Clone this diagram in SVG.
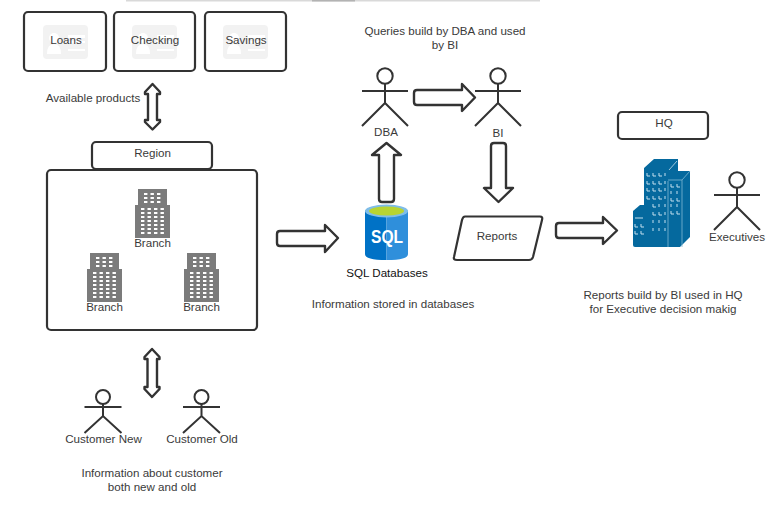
<svg xmlns="http://www.w3.org/2000/svg" xmlns:xlink="http://www.w3.org/1999/xlink" width="780" height="511" viewBox="0 0 780 511">
<style>
text{font-family:"Liberation Sans",Arial,sans-serif;font-size:11.6px;fill:#3a3a3a;text-anchor:middle}
.box{fill:#fff;stroke:#333;stroke-width:2.2;stroke-linejoin:round}
.arrow{fill:#fff;stroke:#333;stroke-width:2.4;stroke-linejoin:round}
.actor{fill:none;stroke:#333;stroke-width:2}
.bld{fill:#7b7b7b}
.win{fill:#fff}
.hqw{fill:none;stroke:#c4e0ee;stroke-width:1}
</style>
<defs>
<g id="prod">
<rect x="0" y="0" width="45" height="34" rx="4" fill="#f2f2f2"/>
<circle cx="11" cy="13" r="5" fill="#fff"/>
<path d="M4 29q0-10 7-10t7 10z" fill="#fff"/>
<rect x="25" y="10" width="17" height="3" fill="#fff"/>
<rect x="25" y="16" width="17" height="2" fill="#fff"/>
<rect x="25" y="24" width="17" height="2" fill="#fff"/>
</g>
<g id="w3"><rect x="0" y="0" width="3.4" height="2" class="win"/><rect x="6.5" y="0" width="3.4" height="2" class="win"/><rect x="13" y="0" width="3.4" height="2" class="win"/></g>
<g id="w4"><rect x="0" y="0" width="3.4" height="2" class="win"/><rect x="6.5" y="0" width="3.4" height="2" class="win"/><rect x="13" y="0" width="3.4" height="2" class="win"/><rect x="19.5" y="0" width="3.4" height="2" class="win"/></g>
<g id="bldg">
<rect x="3" y="0" width="29" height="17" class="bld"/>
<rect x="0" y="16" width="35" height="33" class="bld"/>
<use xlink:href="#w3" x="9" y="4"/><use xlink:href="#w3" x="9" y="8"/><use xlink:href="#w3" x="9" y="12"/>
<use xlink:href="#w4" x="6" y="19"/><use xlink:href="#w4" x="6" y="23"/><use xlink:href="#w4" x="6" y="27"/><use xlink:href="#w4" x="6" y="31"/><use xlink:href="#w4" x="6" y="35"/><use xlink:href="#w4" x="6" y="39"/><use xlink:href="#w4" x="6" y="43"/>
</g>
<g id="actor">
<circle cx="0" cy="0" r="7.7" fill="#fff" stroke="#333" stroke-width="2"/>
<path class="actor" d="M-23 15H23M0 7.7V27M-23 50L0 27L23 50"/>
</g>
<g id="actorS">
<circle cx="0" cy="0" r="7" fill="#fff" stroke="#333" stroke-width="2"/>
<path class="actor" d="M-18.500 10H18.500M0 7V19M-18.500 36L0 19L18.500 36"/>
</g>
</defs>

<g id="top-edge">
<rect x="126" y="0" width="414" height="1.500" fill="#d9d9d9"/>
<rect x="312" y="0" width="43" height="1.500" fill="#b3b3b3"/>
</g>

<g id="connectors">
<path class="arrow" d="M152.500 84L160 92V94H157V120H160V122L152.500 129.500L145 122V120H148V94H145V92Z"/>
<path class="arrow" d="M152 349L159.500 357V359H157V387H159.500V389L152 397L144.500 389V387H147.500V359H144.500V357Z"/>
<path class="arrow" d="M280 231H325V225L338 238L325 252V246H280Q277 246 277 243V234Q277 231 280 231Z"/>
<path class="arrow" d="M417 90H462V84L475 97.500L462 111V105H417Q414 105 414 102V93Q414 90 417 90Z"/>
<path class="arrow" d="M382 202Q379 202 379 199V155H372L386.500 143L401 155H394V199Q394 202 391 202Z"/>
<path class="arrow" d="M494 143H503Q506 143 506 146V188H513L498.500 202L484 188H491V146Q491 143 494 143Z"/>
<path class="arrow" d="M559 223H603V217L617 230.500L603 244V238H559Q556 238 556 235V226Q556 223 559 223Z"/>
</g>

<g id="loans"><rect class="box" x="24" y="12" width="82" height="59" rx="4"/><use xlink:href="#prod" x="43" y="25"/><text x="66" y="44">Loans</text></g>
<g id="checking"><rect class="box" x="114" y="12" width="81" height="59" rx="4"/><use xlink:href="#prod" x="132" y="25"/><text x="155" y="44">Checking</text></g>
<g id="savings"><rect class="box" x="205" y="12" width="81" height="59" rx="4"/><use xlink:href="#prod" x="223" y="25"/><text x="246" y="44">Savings</text></g>
<g id="available-label"><text x="93" y="102">Available products</text></g>

<g id="region-box"><rect class="box" x="47" y="170" width="210" height="160" rx="4"/></g>
<g id="region"><rect class="box" x="92" y="142" width="120" height="27" rx="4"/><text x="152.500" y="157">Region</text></g>
<g id="branch-top"><use xlink:href="#bldg" x="135" y="189"/><text x="152.500" y="247">Branch</text></g>
<g id="branch-left"><use xlink:href="#bldg" x="87" y="253"/><text x="104.500" y="311">Branch</text></g>
<g id="branch-right"><use xlink:href="#bldg" x="184" y="253"/><text x="201.500" y="311">Branch</text></g>

<g id="customer-new"><use xlink:href="#actorS" x="103" y="397"/><text x="103.500" y="443">Customer New</text></g>
<g id="customer-old"><use xlink:href="#actorS" x="201.500" y="397"/><text x="202" y="443">Customer Old</text></g>
<g id="customer-label"><text x="152" y="477">Information about customer</text><text x="152" y="491">both new and old</text></g>

<g id="queries-label"><text x="445" y="35">Queries build by DBA and used</text><text x="445" y="49">by BI</text></g>
<g id="dba"><use xlink:href="#actor" x="385" y="76"/><text x="386" y="136">DBA</text></g>
<g id="bi"><use xlink:href="#actor" x="498" y="76"/><text x="498" y="137">BI</text></g>

<g id="sql">
<path d="M365 212V254Q365 260 386.500 260V206Q365 206 365 212Z" fill="#0072c6"/>
<path d="M408 212V254Q408 260 386.500 260V206Q408 206 408 212Z" fill="#2f8fdb"/>
<ellipse cx="386.500" cy="211" rx="21.500" ry="6.500" fill="#7fbde8"/>
<ellipse cx="386.500" cy="211" rx="17.500" ry="4.500" fill="#b8d432"/>
<text x="387" y="243" textLength="32" lengthAdjust="spacingAndGlyphs" style="font-size:19px;font-weight:bold;fill:#fff">SQL</text>
<text x="387" y="277" style="fill:#111">SQL Databases</text>
</g>
<g id="sql-label"><text x="393" y="308">Information stored in databases</text></g>

<g id="reports"><path class="box" d="M465 216.500H540Q543 216.500 542 220L533 257Q532 260 529 260H457Q453 260 454 257L462 220Q463 216.500 465 216.500Z"/><text x="497" y="240">Reports</text></g>

<g id="hq"><rect class="box" x="618" y="112" width="90" height="27" rx="4"/><text x="664" y="127">HQ</text></g>
<g id="hq-building">
<path d="M644 168L654 159H678V180H668V247H644Z" fill="#05699e"/>
<path d="M668 180L676 171H690V237L680 247H668Z" fill="#05699e"/>
<path d="M633 211L640 205H650V247H635Q633 247 633 245Z" fill="#05699e"/>
<path d="M668 181V247M682 180V247M682 180L690 171M668 180H682" fill="none" stroke="#7fb7d3" stroke-width="0.800"/>
<path d="M669 170L677 161" fill="none" stroke="#c4e0ee" stroke-width="0.800"/>
<path class="hqw" d="M647 173v3h3M653 173v3h3M659 173v3h3M665 173v3M647 181v3h3M653 181v3h3M659 181v3h3M665 181v3M647 188v3h3M653 188v3h3M659 188v3h3M665 188v3M647 196v3h3M653 196v3h3M659 196v3h3M665 196v3M653 204v3h3M659 204v3M665 204v3M653 212v3h3M659 212v3h3M665 212v3M653 220v3M659 220v3M665 220v3M653 228v3M659 228v3M665 228v3"/>
<path class="hqw" d="M671 184v3h3M677 184v3h3M671 191v3M677 191v3M671 198v3h3M677 198v3h3M671 204v3M677 204v3M671 211v3h3M677 211v3h3"/>
<path class="hqw" d="M635 218h8M635 224v3h3M641 224v3h3M635 231v3h3M641 231v3h3"/>
</g>
<g id="executives"><use xlink:href="#actor" x="737" y="180"/><text x="737" y="241">Executives</text></g>
<g id="reports-label"><text x="663" y="299">Reports build by BI used in HQ</text><text x="663" y="313">for Executive decision makig</text></g>
</svg>
